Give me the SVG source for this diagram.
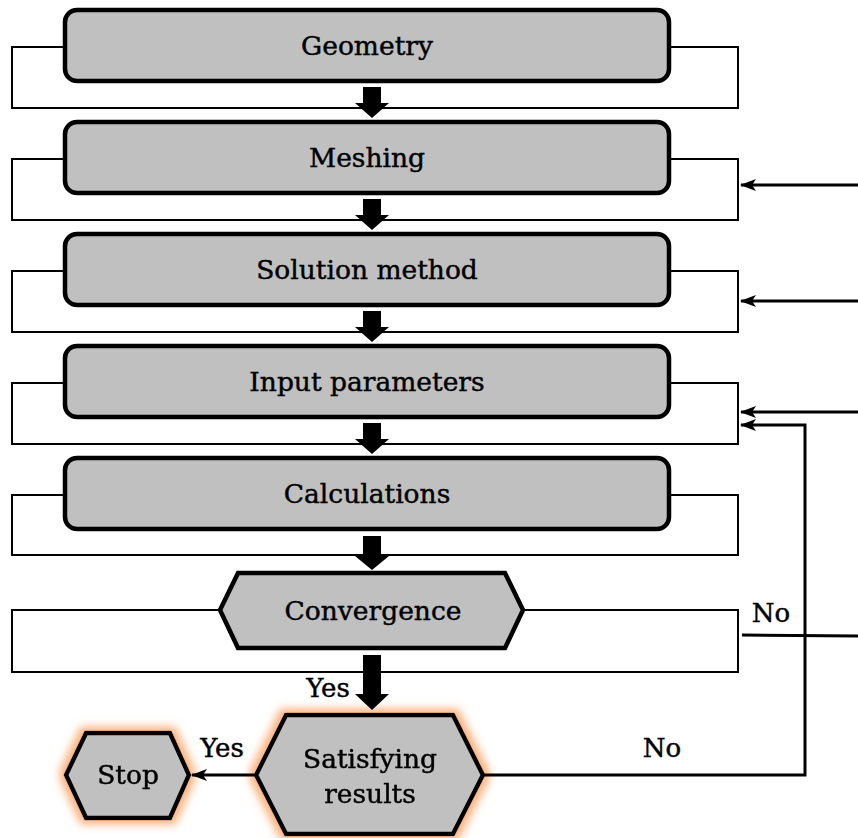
<svg xmlns="http://www.w3.org/2000/svg" width="858" height="838" viewBox="0 0 858 838">
  <style>
    .box { fill: #c0c0c0; stroke: #000; stroke-width: 4.5; stroke-linejoin: round; }
    .hex { fill: #c0c0c0; stroke: #000; stroke-width: 4.5; stroke-linejoin: miter; }
    .loop { fill: none; stroke: #000; stroke-width: 2; }
    .flow { fill: none; stroke: #000; stroke-width: 3; }
    .big { fill: #000; }
    text { font-family: "DejaVu Serif", "Liberation Serif", serif; font-size: 26.5px; fill: #000; stroke: #000; stroke-width: 0.45; text-anchor: middle; }
    .lbl { font-size: 26px; }
  </style>
  <defs>
    <marker id="tip" viewBox="0 0 16 12" refX="15" refY="6" markerWidth="16" markerHeight="12" markerUnits="userSpaceOnUse" orient="auto">
      <path d="M0,0 L16,6 L0,12 L4,6 Z" fill="#000"/>
    </marker>
    <filter id="glow" x="-25%" y="-25%" width="150%" height="150%">
      <feMorphology in="SourceAlpha" operator="dilate" radius="4" result="grown"/>
      <feGaussianBlur in="grown" stdDeviation="4" result="soft"/>
      <feFlood flood-color="#fbb07c" result="tint"/>
      <feComposite in="tint" in2="soft" operator="in" result="halo"/>
      <feMerge>
        <feMergeNode in="halo"/>
        <feMergeNode in="SourceGraphic"/>
      </feMerge>
    </filter>
  </defs>

  <!-- feedback loops drawn behind each step -->
  <g id="loops">
    <rect class="loop" x="12" y="47" width="726" height="61"/>
    <rect class="loop" x="12" y="159" width="726" height="61"/>
    <rect class="loop" x="12" y="271" width="726" height="61"/>
    <rect class="loop" x="12" y="383" width="726" height="61"/>
    <rect class="loop" x="12" y="495" width="726" height="60"/>
    <rect class="loop" x="12" y="610" width="726" height="62"/>
  </g>

  <g id="geometry">
    <rect class="box" x="65" y="10" width="604" height="71" rx="12"/>
    <text x="367" y="55">Geometry</text>
  </g>
  <g id="meshing">
    <rect class="box" x="65" y="122" width="604" height="71" rx="12"/>
    <text x="367" y="167">Meshing</text>
  </g>
  <g id="solution-method">
    <rect class="box" x="65" y="234" width="604" height="71" rx="12"/>
    <text x="367" y="279">Solution method</text>
  </g>
  <g id="input-parameters">
    <rect class="box" x="65" y="346" width="604" height="71" rx="12"/>
    <text x="367" y="391">Input parameters</text>
  </g>
  <g id="calculations">
    <rect class="box" x="65" y="458" width="604" height="71" rx="12"/>
    <text x="367" y="503">Calculations</text>
  </g>
  <g id="convergence">
    <polygon class="hex" points="220,610 238,573 505,573 523,610 505,648 238,648"/>
    <text x="373" y="620">Convergence</text>
  </g>
  <g id="satisfying-results" filter="url(#glow)">
    <polygon class="hex" points="256,775 286,715 453,715 483,775 453,834 286,834"/>
    <text x="370" y="768">Satisfying</text>
    <text x="370" y="803">results</text>
  </g>
  <g id="stop" filter="url(#glow)">
    <polygon class="hex" points="66,775 86,733 170,733 189,775 170,818 86,818"/>
    <text x="128" y="784">Stop</text>
  </g>

  <g id="connectors">
    <!-- main downward flow -->
    <polygon class="big" points="363,87 381,87 381,103 389,103 372,118 355,103 363,103"/>
    <polygon class="big" points="363,199 381,199 381,215 389,215 372,230 355,215 363,215"/>
    <polygon class="big" points="363,311 381,311 381,327 389,327 372,342 355,327 363,327"/>
    <polygon class="big" points="363,423 381,423 381,439 389,439 372,454 355,439 363,439"/>
    <polygon class="big" points="363,536 381,536 381,556 389,556 372,570 355,556 363,556"/>
    <polygon class="big" points="363,655 381,655 381,694 389,694 372,710 355,694 363,694"/>
    <text class="lbl" x="328" y="697">Yes</text>

    <!-- satisfying results -> stop -->
    <line class="flow" x1="256" y1="775" x2="192" y2="775" marker-end="url(#tip)"/>
    <text class="lbl" x="222" y="757">Yes</text>

    <!-- not satisfying: back to input parameters -->
    <polyline class="flow" points="483,775 805,775 805,425 741,425" marker-end="url(#tip)"/>
    <text class="lbl" x="662" y="757">No</text>

    <!-- external inputs entering from the right -->
    <line class="flow" x1="858" y1="185" x2="741" y2="185" marker-end="url(#tip)"/>
    <line class="flow" x1="858" y1="301" x2="741" y2="301" marker-end="url(#tip)"/>
    <line class="flow" x1="858" y1="412" x2="741" y2="412" marker-end="url(#tip)"/>

    <!-- convergence not reached -->
    <line class="flow" x1="742" y1="635" x2="858" y2="636"/>
    <text class="lbl" x="771" y="622">No</text>
  </g>
</svg>
